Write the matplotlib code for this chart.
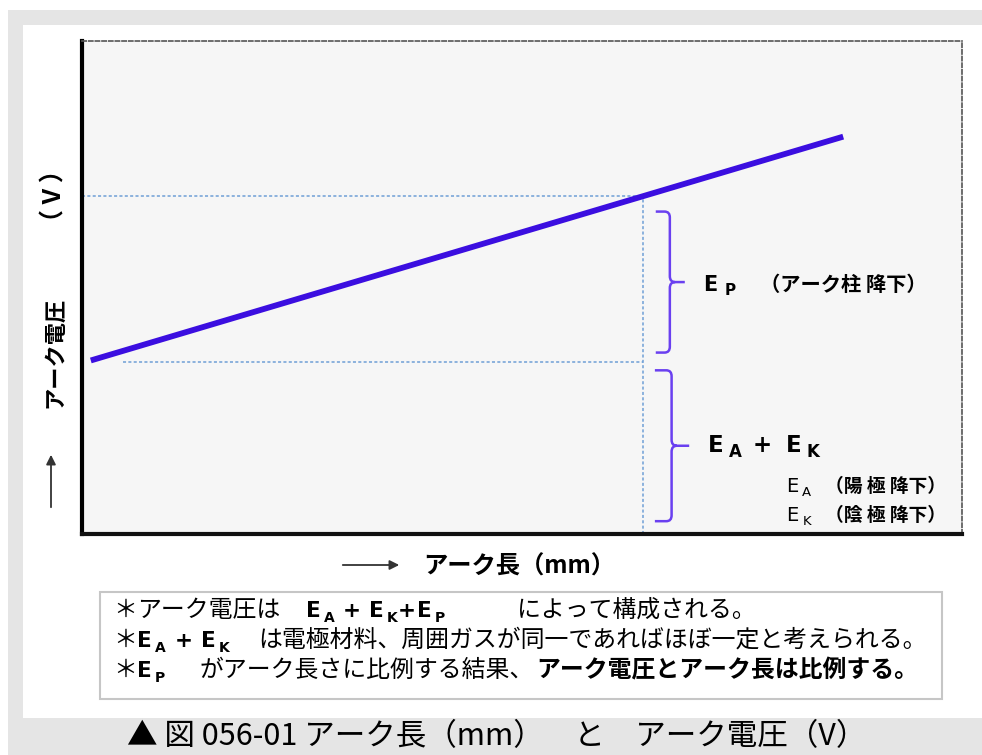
"""Arc length vs arc voltage diagram (図 056-01)."""

import matplotlib

matplotlib.use("Agg")
import matplotlib.pyplot as plt
from matplotlib.patches import PathPatch, Rectangle
from matplotlib.path import Path
from matplotlib.transforms import IdentityTransform

W, H = 982, 755
JP = "Noto Sans CJK JP"

# values (arbitrary mm / V scale)
arc_length = [0.1, 8.65]
arc_voltage = [17.6, 40.3]
mark_length = 6.38
mark_voltage = 34.3
ea_ek_level = 17.4
guide_start = 0.47
brace_spans = [(18.4, 32.7), (1.3, 16.6)]

note_lines = [
    "によって構成される。",
    "は電極材料、周囲ガスが同一であればほぼ一定と考えられる。",
    "がアーク長さに比例する結果、",
]
caption = "▲ 図 056-01 アーク長（mm）　と　アーク電圧（V）"

fig = plt.figure(figsize=(W / 100, H / 100), dpi=100)
fig.patch.set_facecolor("white")
ident = IdentityTransform()


def fig_rect(x0, y0, x1, y1, **kw):
    # pixel box given from the top-left corner
    fig.add_artist(Rectangle((x0, H - y1), x1 - x0, y1 - y0, transform=ident, **kw))


fig_rect(8, 10, W, H, facecolor="#e5e5e5", edgecolor="none", zorder=0)
fig_rect(23, 25, W, 718, facecolor="white", edgecolor="none", zorder=0)
fig_rect(100, 592, 942, 699, facecolor="white", edgecolor="#c6c6c6", lw=1.5, zorder=1)

ax = fig.add_axes([82 / W, 1 - 534 / H, 880 / W, 493 / H])
ax.set_xlim(0, 10)
ax.set_ylim(0, 50)
ax.set_facecolor("#f6f6f6")
ax.set_xticks([])
ax.set_yticks([])
ax.spines["left"].set(color="black", lw=3)
ax.spines["bottom"].set(color="#111111", lw=3)
for side in ("top", "right"):
    ax.spines[side].set(color="#555555", lw=1.2, ls=(0, (2.5, 1.5)))

guide = dict(color="#6f9fd6", lw=1.1, ls=(0, (2, 1.5)))
ax.plot([0, mark_length], [mark_voltage] * 2, **guide)
ax.plot([mark_length] * 2, [0, mark_voltage], **guide)
ax.plot([guide_start, mark_length], [ea_ek_level] * 2, **guide)
ax.plot(arc_length, arc_voltage, color="#3b0ee0", lw=4.2, solid_capstyle="butt")


def brace(y0, y1, xl, xm, xt):
    rx, ry = 0.06, 0.6
    ym = (y0 + y1) / 2
    verts = [
        (xl, y1), (xm - rx, y1), (xm, y1), (xm, y1 - ry), (xm, ym + ry),
        (xm, ym), (xm + rx, ym), (xt, ym),
        (xm + rx, ym), (xm, ym), (xm, ym - ry), (xm, y0 + ry),
        (xm, y0), (xm - rx, y0), (xl, y0),
    ]
    codes = [
        Path.MOVETO, Path.LINETO, Path.CURVE3, Path.CURVE3, Path.LINETO,
        Path.CURVE3, Path.CURVE3, Path.LINETO,
        Path.MOVETO, Path.CURVE3, Path.CURVE3, Path.LINETO,
        Path.CURVE3, Path.CURVE3, Path.LINETO,
    ]
    ax.add_patch(PathPatch(Path(verts, codes), fill=False, edgecolor="#6a40f0", lw=1.8))


brace(*brace_spans[0], 6.52, 6.68, 6.85)
brace(*brace_spans[1], 6.51, 6.70, 6.90)

renderer = fig.canvas.get_renderer()


def text_run(x, y, parts):
    # x, y: baseline start in pixels from the top-left corner
    for s, style, dy, gap in parts:
        t = fig.text(x, H - y - dy, s, transform=ident, ha="left", va="baseline", **style)
        x += t.get_window_extent(renderer).width + gap


jp = dict(family=[JP], fontsize=17.2)
jpb = dict(family=[JP], fontsize=17.2, weight="bold")
eb = dict(family=["DejaVu Sans", JP], fontsize=15.5, weight="bold")
sb = dict(family=["DejaVu Sans", JP], fontsize=10, weight="bold")
star = ("＊", jp, 0, 0)

text_run(113, 617, [star, ("アーク電圧は", jp, 0, 26), ("E", eb, 0, 3), ("A", sb, 5, 8),
                    ("+", eb, 0, 8), ("E", eb, 0, 3), ("K", sb, 5, 1), ("+", eb, 0, 1),
                    ("E", eb, 0, 3), ("P", sb, 5, 72), (note_lines[0], jp, 0, 0)])
text_run(113, 647, [star, ("E", eb, 0, 3), ("A", sb, 5, 9), ("+", eb, 0, 9),
                    ("E", eb, 0, 3), ("K", sb, 5, 28), (note_lines[1], jp, 0, 0)])
text_run(113, 677, [star, ("E", eb, 0, 3), ("P", sb, 5, 35),
                    (note_lines[2], jp, 0, 2), ("アーク電圧とアーク長は比例する。", jpb, 0, 0)])

# labels beside the braces
e15 = dict(family=["DejaVu Sans", JP], fontsize=15, weight="bold")
s11 = dict(family=["DejaVu Sans", JP], fontsize=11, weight="bold")
j14 = dict(family=[JP], fontsize=14.6, weight="bold")
j13 = dict(family=[JP], fontsize=13.5, weight="bold")
text_run(703, 291, [("E", e15, 0, 7), ("P", s11, 4, 25), ("（アーク柱 降下）", j14, 0, 0)])

e16 = dict(family=["DejaVu Sans", JP], fontsize=16.5, weight="bold")
s12 = dict(family=["DejaVu Sans", JP], fontsize=12, weight="bold")
text_run(708, 452, [("E", e16, 0, 5), ("A", s12, 5, 11), ("+", e16, 0, 14),
                    ("E", e16, 0, 5), ("K", s12, 5, 0)])

e14 = dict(family=["DejaVu Sans", JP], fontsize=14)
s9 = dict(family=["DejaVu Sans", JP], fontsize=9.5)
text_run(786, 492, [("E", e14, 0, 4), ("A", s9, 4, 14), ("（陽 極 降下）", j13, 0, 0)])
text_run(786, 521, [("E", e14, 0, 4), ("K", s9, 4, 14), ("（陰 極 降下）", j13, 0, 0)])

# axis labels
arrow = dict(arrowstyle="-|>", color="#333333", lw=1.3, mutation_scale=14)
ax.annotate("", xy=(51, H - 452), xytext=(51, H - 510), xycoords="figure pixels",
            arrowprops=arrow, annotation_clip=False)
ax.annotate("", xy=(402, H - 565), xytext=(340, H - 565), xycoords="figure pixels",
            arrowprops=arrow, annotation_clip=False)
fig.text(55, H - 352, "アーク電圧", transform=ident, rotation=90, ha="center", va="center",
         family=[JP], fontsize=16, weight="bold")
fig.text(55, H - 196, "（ V ）", transform=ident, rotation=90, ha="center", va="center",
         family=[JP], fontsize=18, weight="bold")
fig.text(423, H - 567, "アーク長（mm）", transform=ident, ha="left", va="center",
         family=[JP], fontsize=17.5, weight="bold")

fig.text(497, H - 737, caption, transform=ident, ha="center", va="center",
         family=[JP, "DejaVu Sans"], fontsize=22)

fig.savefig("out.png", dpi=100)
